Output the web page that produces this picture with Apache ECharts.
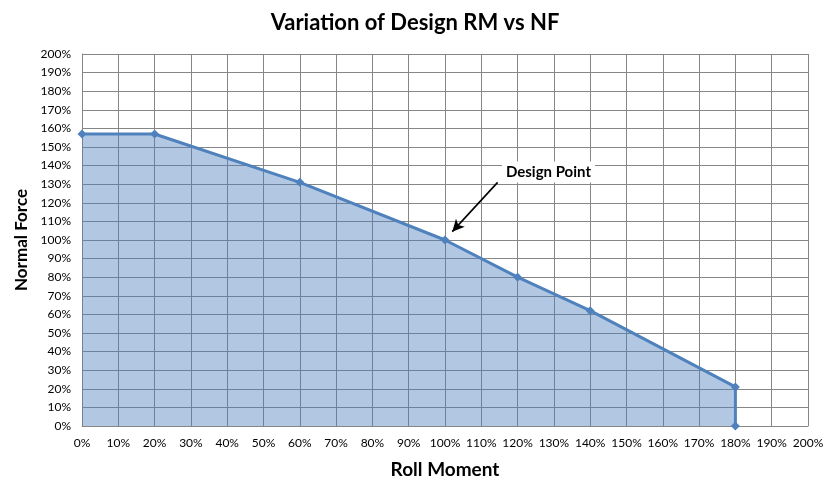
<!DOCTYPE html>
<html>
<head>
<meta charset="utf-8">
<script src="https://cdn.jsdelivr.net/npm/echarts@6/dist/echarts.min.js"></script>
<style>
  html, body { margin: 0; padding: 0; background: #fff; }
  #chart { width: 830px; height: 489px; }
</style>
</head>
<body>
<div id="chart"></div>
<script>
// roll moment (%) and normal force (%)
const rollMoment = [0, 20, 60, 100, 120, 140, 180, 180]
const normalForce = [157, 157, 131, 100, 80, 62, 21, 0]
const designPoint = [100, 100]
const arrowFrom = [114.5, 131]
const labelAt = [128.5, 136.5]

const pts = rollMoment.map((x, i) => [x, normalForce[i]])
const font = 'Lato, "Open Sans", sans-serif'

const chart = echarts.init(document.getElementById('chart'))
chart.setOption({
  animation: false,
  title: {
    text: 'Variation of Design RM vs NF',
    left: 'center',
    top: 7,
    textStyle: { fontFamily: font, fontSize: 22, fontWeight: 'bold', color: '#000' }
  },
  grid: { left: 82, right: 22, top: 54, bottom: 63 },
  xAxis: {
    type: 'value',
    min: 0, max: 200, interval: 10,
    name: 'Roll Moment',
    nameLocation: 'middle',
    nameGap: 34,
    nameTextStyle: { fontFamily: font, fontSize: 19, fontWeight: 'bold', color: '#000' },
    axisLine: { lineStyle: { color: '#868686' } },
    axisTick: { show: false },
    axisLabel: { formatter: '{value}%', fontFamily: font, fontSize: 12, color: '#000', margin: 11 },
    splitLine: { show: true, lineStyle: { color: '#868686', width: 1 } }
  },
  yAxis: {
    type: 'value',
    min: 0, max: 200, interval: 10,
    name: 'Normal Force',
    nameLocation: 'middle',
    nameGap: 50,
    nameTextStyle: { fontFamily: font, fontSize: 17, fontWeight: 'bold', color: '#000' },
    axisLine: { show: true, lineStyle: { color: '#868686' } },
    axisTick: { show: false },
    axisLabel: { formatter: '{value}%', fontFamily: font, fontSize: 12, color: '#000', margin: 11 },
    splitLine: { show: true, lineStyle: { color: '#868686', width: 1 } }
  },
  series: [{
    type: 'line',
    data: pts,
    symbol: 'diamond',
    symbolSize: 9,
    itemStyle: { color: '#4F81BD' },
    lineStyle: { color: '#4F81BD', width: 3 },
    areaStyle: { color: 'rgba(79,129,189,0.62)', origin: 'start' },
    markLine: {
      silent: true,
      symbol: ['none', 'arrow'],
      symbolSize: [9, 12],
      label: { show: false },
      lineStyle: { color: '#000', width: 1.6, type: 'solid' },
      data: [[
        { coord: arrowFrom },
        { coord: [designPoint[0] + 2, designPoint[1] + 4.5] }
      ]]
    },
    markPoint: {
      silent: true,
      symbol: 'rect',
      symbolSize: 1,
      itemStyle: { color: 'transparent' },
      data: [{
        coord: labelAt,
        label: {
          show: true,
          formatter: 'Design Point',
          fontFamily: font,
          fontSize: 15,
          fontWeight: 'bold',
          color: '#000',
          backgroundColor: '#fff',
          padding: [3, 4]
        }
      }]
    }
  }]
})
</script>
</body>
</html>
